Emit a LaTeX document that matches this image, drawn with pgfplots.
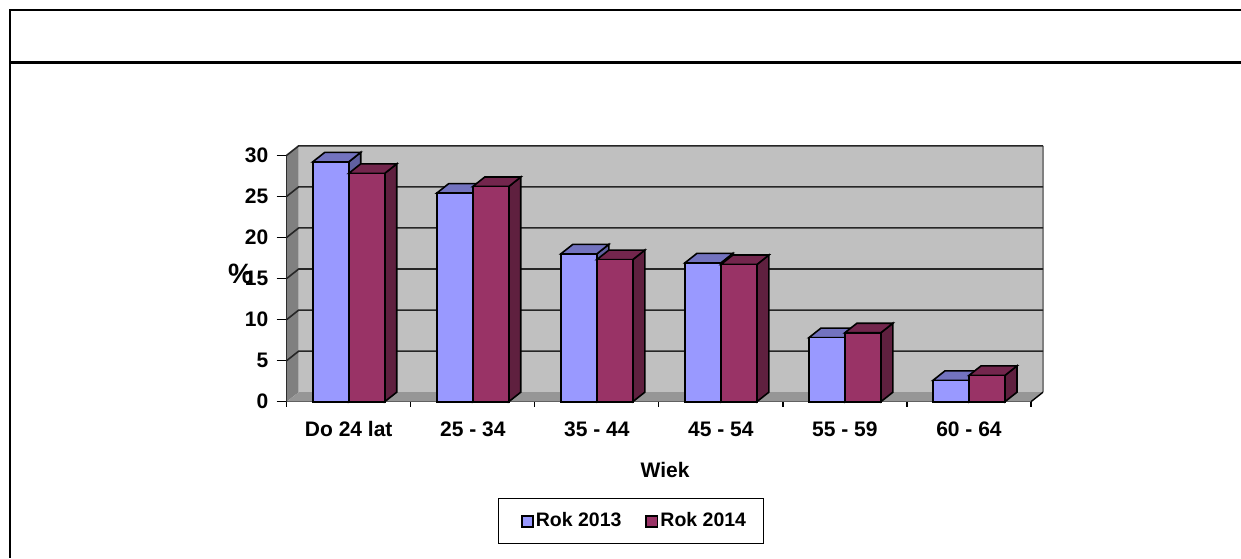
\documentclass[border=0pt]{standalone}
\usepackage{fontspec}
\setmainfont{Liberation Sans}
\usepackage{pgfplots}
\pgfplotsset{compat=1.18}

\definecolor{wall}{HTML}{C0C0C0}
\definecolor{sidewall}{HTML}{808080}
\definecolor{floorc}{HTML}{969696}
\definecolor{bluef}{HTML}{9999FF}
\definecolor{bluet}{HTML}{7373BF}
\definecolor{blues}{HTML}{6060A0}
\definecolor{redf}{HTML}{993366}
\definecolor{redt}{HTML}{73264D}
\definecolor{reds}{HTML}{5F203F}

% depth of the 3D effect, in data units (12 px and 9.5 px)
\newcommand{\dx}{0.0968}
\newcommand{\dy}{1.157}

% left, right, value, front, top, side
\newcommand{\threedbar}[6]{%
  \addplot[forget plot,black,line width=0.8pt,fill=#6] coordinates {(#2,0) (#2+\dx,\dy) (#2+\dx,#3+\dy) (#2,#3)} -- cycle;
  \addplot[forget plot,black,line width=0.8pt,fill=#5] coordinates {(#1,#3) (#1+\dx,#3+\dy) (#2+\dx,#3+\dy) (#2,#3)} -- cycle;
  \addplot[forget plot,black,line width=0.8pt,fill=#4] coordinates {(#1,0) (#1,#3) (#2,#3) (#2,0)} -- cycle;
}
\newcommand{\gridline}[1]{%
  \addplot[forget plot,black!85,line width=0.8pt] coordinates {(0,#1) (\dx,#1+\dy) (6+\dx,#1+\dy)};
}

\begin{document}
\begin{tikzpicture}
\path[use as bounding box] (0,0) rectangle (620.5pt,279pt);
% page frame
\draw[black,line width=1.1pt] (620.5pt,274pt) -- (5pt,274pt) -- (5pt,0pt);
\draw[black,line width=1.5pt] (5pt,247.5pt) -- (620.5pt,247.5pt);

\begin{axis}[
    at={(143.35pt,78.15pt)},
    anchor=south west,
    scale only axis,
    width=372.15pt,
    height=123.2pt,
    xmin=0, xmax=6,
    ymin=0, ymax=30,
    clip=false,
    axis x line=bottom,
    axis y line=left,
    axis line style={-,black,line width=0.75pt},
    xtick={0.5,1.5,2.5,3.5,4.5,5.5},
    xticklabels={Do 24 lat,25 - 34,35 - 44,45 - 54,55 - 59,60 - 64},
    minor xtick={0,1,2,3,4,5,6},
    ytick={0,5,10,15,20,25,30},
    major tick length=0pt,
    minor tick length=2.5pt,
    tick align=outside,
    tick style={black,line width=0.6pt},
    /pgf/number format/assume math mode=true,
    ticklabel style={font=\fontsize{10.5}{12}\selectfont\bfseries},
    xticklabel style={yshift=-6.5pt},
    yticklabel style={xshift=-5.7pt},
    extra y ticks={0,5,10,15,20,25,30},
    extra y tick labels={},
    extra y tick style={major tick length=5pt,tick align=outside},
    xlabel={Wiek},
    xlabel style={at={(axis description cs:0.5083,-0.277)},anchor=center,font=\fontsize{10.5}{12}\selectfont\bfseries},
    ylabel={\%},
    ylabel style={at={(axis description cs:-0.0621,0.518)},anchor=center,rotate=-90,font=\fontsize{14}{15}\selectfont\bfseries},
    legend style={
        at={(axis description cs:0.4625,-0.485)},
        anchor=center,
        draw=black,
        line width=0.5pt,
        font=\fontsize{9.75}{12}\selectfont\bfseries,
        legend columns=2,
        inner xsep=6.5pt,
        inner ysep=5pt,
        /tikz/every even column/.append style={column sep=10pt},
        /tikz/every odd column/.append style={column sep=-1pt},
    },
    legend cell align=left,
]
% walls and floor
\addplot[forget plot,draw=none,fill=sidewall] coordinates {(0,0) (\dx,\dy) (\dx,30+\dy) (0,30)} -- cycle;
\addplot[forget plot,draw=none,fill=wall] coordinates {(\dx,\dy) (\dx,30+\dy) (6+\dx,30+\dy) (6+\dx,\dy)} -- cycle;
\addplot[forget plot,draw=none,fill=floorc] coordinates {(0,0) (\dx,\dy) (6+\dx,\dy) (6,0)} -- cycle;
\addplot[forget plot,gray,line width=0.8pt] coordinates {(6+\dx,\dy) (6+\dx,30+\dy)};
\addplot[forget plot,black,line width=0.7pt] coordinates {(6,0) (6+\dx,\dy)};
\gridline{5}
\gridline{10}
\gridline{15}
\gridline{20}
\gridline{25}
\gridline{30}

\threedbar{0.21}{0.50}{29.2}{bluef}{bluet}{blues}
\threedbar{0.50}{0.79}{27.8}{redf}{redt}{reds}
\threedbar{1.21}{1.50}{25.4}{bluef}{bluet}{blues}
\threedbar{1.50}{1.79}{26.2}{redf}{redt}{reds}
\threedbar{2.21}{2.50}{18.0}{bluef}{bluet}{blues}
\threedbar{2.50}{2.79}{17.3}{redf}{redt}{reds}
\threedbar{3.21}{3.50}{16.9}{bluef}{bluet}{blues}
\threedbar{3.50}{3.79}{16.7}{redf}{redt}{reds}
\threedbar{4.21}{4.50}{7.8}{bluef}{bluet}{blues}
\threedbar{4.50}{4.79}{8.4}{redf}{redt}{reds}
\threedbar{5.21}{5.50}{2.6}{bluef}{bluet}{blues}
\threedbar{5.50}{5.79}{3.2}{redf}{redt}{reds}

\addlegendimage{legend image code/.code={\path[draw=none] (-5pt,0pt) -- (0pt,0pt);\draw[black,line width=0.9pt,fill=bluef] (0pt,-2.8pt) rectangle (5.6pt,2.8pt);}}
\addlegendentry{Rok 2013}
\addlegendimage{legend image code/.code={\draw[black,line width=0.9pt,fill=redf] (0pt,-2.8pt) rectangle (5.6pt,2.8pt);}}
\addlegendentry{Rok 2014}
\end{axis}
\end{tikzpicture}
\end{document}
